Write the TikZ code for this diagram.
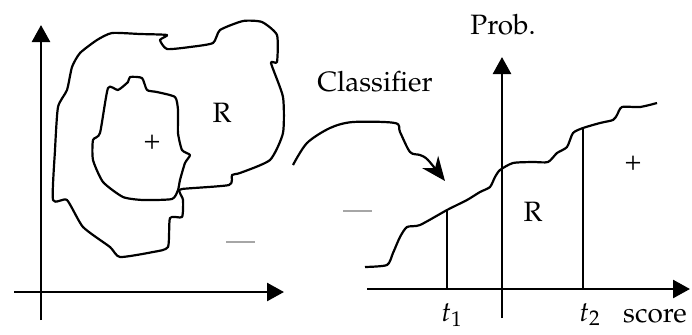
\documentclass[tikz,border=0pt]{standalone}
\usepackage[T1]{fontenc}
\usepackage{mathpazo}
\usetikzlibrary{arrows.meta}
\begin{document}
\begin{tikzpicture}[x=0.5pt,y=-0.5pt,
  axis/.style={line width=1.3pt,-{Triangle[length=8.5pt,width=9pt]}},
  blob/.style={line width=1.1pt,line join=round},
  lbl/.style={font=\fontsize{14}{16}\selectfont,inner sep=0pt},
  sgn/.style={draw=gray!70,line width=1.1pt}]
\useasboundingbox (0,0) rectangle (692,334);
% left axes
\coordinate (ly0) at (41,320); \coordinate (ly1) at (41,25);
\coordinate (lx0) at (14,292); \coordinate (lx1) at (284,292);
\draw[axis] (ly0) -- (ly1);
\draw[axis] (lx0) -- (lx1);
% outer blob
\draw[blob] plot[smooth cycle,tension=0.35] coordinates {
 (112,33) (140,34) (167,35) (160,40) (167,49) (190,47) (213,43) (220,30) (243,21) (262,22)
 (277,35) (277,62) (271,63) (283,97) (283,133) (270,160) (240,173) (232,175) (229,185)
 (182,189) (180,193) (183,200) (182,217) (170,218) (168,247) (153,252) (120,257) (110,247)
 (83,227) (67,200) (53,200) (55,150) (58,107) (67,90) (72,67) (80,53) (97,40)};
% inner blob
\draw[blob] plot[smooth cycle,tension=0.35] coordinates {
 (130,77) (142,78) (147,90) (157,92) (175,97) (178,110) (178,133) (182,150) (190,155)
 (185,163) (180,180) (178,190) (172,199) (143,200) (123,197) (103,182) (93,160) (93,140)
 (100,133) (108,88) (118,90) (128,82)};
\node[lbl] (plusL) at (152,142) {+};
\node[lbl] (RL) at (222,113) {R};
\coordinate (mL0) at (226,242); \coordinate (mL1) at (255,242);
\draw[sgn] (mL0) -- (mL1);
% classifier arrow
\node[lbl] (cls) at (375,82) {Classifier};
\coordinate (c0) at (293,165); \coordinate (c1) at (445,181);
\draw[blob,-{Stealth[length=12pt,width=10pt]}] plot[smooth,tension=0.5] coordinates {
 (c0) (307,143) (330,128) (353,122) (395,123) (400,132) (410,152) (420,155) (428,160) (c1)};
% right axes
\coordinate (ry0) at (502,318); \coordinate (ry1) at (502,57);
\coordinate (rx0) at (367,289); \coordinate (rx1) at (690,289);
\draw[axis] (ry0) -- (ry1);
\draw[axis] (rx0) -- (rx1);
\node[lbl] (prob) at (503,25) {Prob.};
\node[lbl,anchor=base] (score) at (655,322) {score};
\node[lbl,anchor=base] (t1) at (452,321) {$t_1$};
\node[lbl,anchor=base] (t2) at (590,321) {$t_2$};
% curve
\draw[blob] plot[smooth,tension=0.4] coordinates {
 (365,267) (387,265) (393,253) (400,237) (407,227) (420,225) (447,210) (467,200) (480,192)
 (490,187) (495,177) (500,170) (513,163) (533,162) (548,162) (557,153) (567,147) (573,133)
 (583,128) (600,123) (613,120) (617,115) (622,107) (640,107) (657,103)};
\coordinate (t1a) at (447,289); \coordinate (t1b) at (447,210);
\coordinate (t2a) at (583,289); \coordinate (t2b) at (583,128);
\draw[blob] (t1a) -- (t1b);
\draw[blob] (t2a) -- (t2b);
\node[lbl] (RR) at (533,212) {R};
\node[lbl] (plusR) at (633,163) {+};
\coordinate (mR0) at (343,211); \coordinate (mR1) at (372,211);
\draw[sgn] (mR0) -- (mR1);
\end{tikzpicture}
\end{document}
